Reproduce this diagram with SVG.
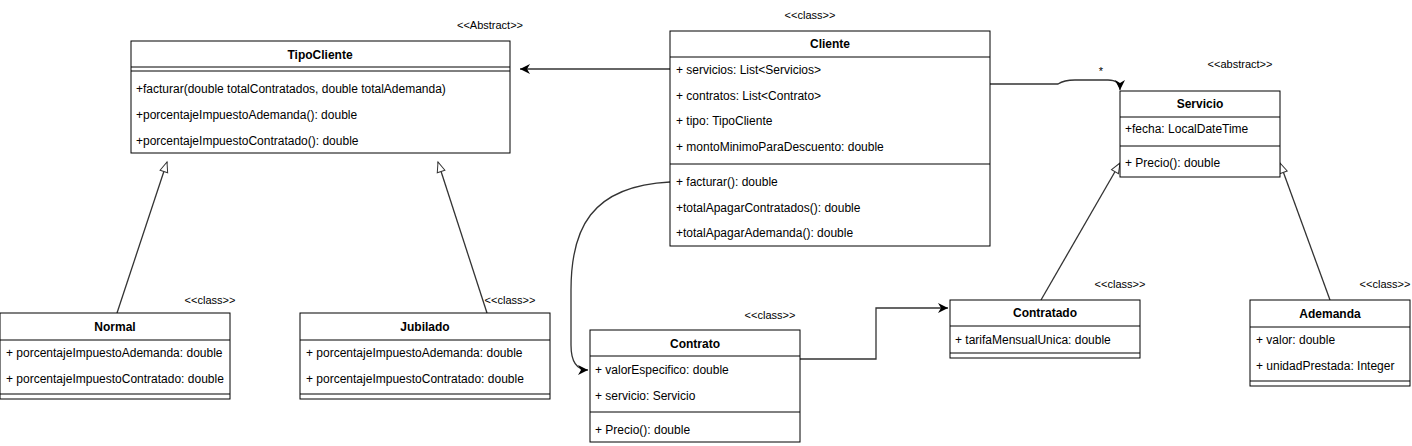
<svg xmlns="http://www.w3.org/2000/svg" width="1412" height="446" viewBox="0 0 1412 446">
<defs>
<style>
.box{fill:#fff;stroke:#000;stroke-width:1}
.sep{stroke:#000;stroke-width:1}
.t{font-family:"Liberation Sans",Arial,sans-serif;font-size:12px;fill:#000}
.title{font-family:"Liberation Sans",Arial,sans-serif;font-size:12px;font-weight:bold;fill:#000;text-anchor:middle}
.st{font-family:"Liberation Sans",Arial,sans-serif;font-size:11px;fill:#000;text-anchor:middle}
.c{fill:none;stroke:#333;stroke-width:1.3}
</style>
<marker id="fill" markerWidth="12" markerHeight="10" refX="10" refY="5" orient="auto" markerUnits="userSpaceOnUse">
<path d="M0,0 L10,5 L0,10 L3,5 Z" fill="#000"/>
</marker>
<marker id="gen" markerWidth="14" markerHeight="12" refX="11" refY="5" orient="auto" markerUnits="userSpaceOnUse">
<path d="M1,1 L11,5 L1,9 Z" fill="#fff" stroke="#333" stroke-width="1"/>
</marker>
</defs>

<g id="connectors">
<path class="c" d="M670,69 L520,69" marker-end="url(#fill)"/>
<path class="c" d="M990,84 L1058,84 Q1064,80 1075,80 L1108,80 Q1120,80 1120,90" marker-end="url(#fill)"/>
<text class="st" x="1101" y="75">*</text>
<path class="c" d="M670,182 C590,186 571,230 571,290 L571,345 C571,360 576,370 588,370" marker-end="url(#fill)"/>
<path class="c" d="M800,359 L876,359 L876,308 L948,308" marker-end="url(#fill)"/>
<path class="c" d="M117,313 L167,162" marker-end="url(#gen)"/>
<path class="c" d="M487,313 L438,162" marker-end="url(#gen)"/>
<path class="c" d="M1041,300 L1120,163" marker-end="url(#gen)"/>
<path class="c" d="M1330,300 L1280,163" marker-end="url(#gen)"/>
</g>

<g id="TipoCliente">
<text class="st" x="490" y="29">&lt;&lt;Abstract&gt;&gt;</text>
<rect class="box" x="131" y="41" width="379" height="112"/>
<line class="sep" x1="131" y1="67" x2="510" y2="67"/>
<line class="sep" x1="131" y1="71" x2="510" y2="71"/>
<text class="title" x="320" y="59">TipoCliente</text>
<text class="t" x="136" y="93">+facturar(double totalContratados, double totalAdemanda)</text>
<text class="t" x="136" y="119">+porcentajeImpuestoAdemanda(): double</text>
<text class="t" x="136" y="145">+porcentajeImpuestoContratado(): double</text>
</g>

<g id="Cliente">
<text class="st" x="810" y="19">&lt;&lt;class&gt;&gt;</text>
<rect class="box" x="670" y="31" width="320" height="215"/>
<line class="sep" x1="670" y1="57" x2="990" y2="57"/>
<line class="sep" x1="670" y1="164" x2="990" y2="164"/>
<text class="title" x="830" y="48">Cliente</text>
<text class="t" x="676" y="74">+ servicios: List&lt;Servicios&gt;</text>
<text class="t" x="676" y="100">+ contratos: List&lt;Contrato&gt;</text>
<text class="t" x="676" y="125">+ tipo: TipoCliente</text>
<text class="t" x="676" y="151">+ montoMinimoParaDescuento: double</text>
<text class="t" x="676" y="186">+ facturar(): double</text>
<text class="t" x="676" y="212">+totalApagarContratados(): double</text>
<text class="t" x="676" y="237">+totalApagarAdemanda(): double</text>
</g>

<g id="Servicio">
<text class="st" x="1240" y="68">&lt;&lt;abstract&gt;&gt;</text>
<rect class="box" x="1120" y="91" width="160" height="86"/>
<line class="sep" x1="1120" y1="117" x2="1280" y2="117"/>
<line class="sep" x1="1120" y1="146" x2="1280" y2="146"/>
<text class="title" x="1200" y="108">Servicio</text>
<text class="t" x="1125" y="133">+fecha: LocalDateTime</text>
<text class="t" x="1125" y="167">+ Precio(): double</text>
</g>

<g id="Normal">
<text class="st" x="210" y="304">&lt;&lt;class&gt;&gt;</text>
<rect class="box" x="0" y="313" width="230" height="86"/>
<line class="sep" x1="0" y1="340" x2="230" y2="340"/>
<line class="sep" x1="0" y1="394" x2="230" y2="394"/>
<text class="title" x="115" y="331">Normal</text>
<text class="t" x="6" y="357">+ porcentajeImpuestoAdemanda: double</text>
<text class="t" x="6" y="383">+ porcentajeImpuestoContratado: double</text>
</g>

<g id="Jubilado">
<text class="st" x="510" y="304">&lt;&lt;class&gt;&gt;</text>
<rect class="box" x="300" y="313" width="250" height="86"/>
<line class="sep" x1="300" y1="340" x2="550" y2="340"/>
<line class="sep" x1="300" y1="394" x2="550" y2="394"/>
<text class="title" x="425" y="331">Jubilado</text>
<text class="t" x="306" y="357">+ porcentajeImpuestoAdemanda: double</text>
<text class="t" x="306" y="383">+ porcentajeImpuestoContratado: double</text>
</g>

<g id="Contrato">
<text class="st" x="770" y="319">&lt;&lt;class&gt;&gt;</text>
<rect class="box" x="590" y="330" width="210" height="112"/>
<line class="sep" x1="590" y1="356" x2="800" y2="356"/>
<line class="sep" x1="590" y1="412" x2="800" y2="412"/>
<text class="title" x="695" y="348">Contrato</text>
<text class="t" x="595" y="374">+ valorEspecifico: double</text>
<text class="t" x="595" y="400">+ servicio: Servicio</text>
<text class="t" x="595" y="434">+ Precio(): double</text>
</g>

<g id="Contratado">
<text class="st" x="1120" y="288">&lt;&lt;class&gt;&gt;</text>
<rect class="box" x="950" y="300" width="190" height="58"/>
<line class="sep" x1="950" y1="326" x2="1140" y2="326"/>
<line class="sep" x1="950" y1="353" x2="1140" y2="353"/>
<text class="title" x="1045" y="317">Contratado</text>
<text class="t" x="955" y="344">+ tarifaMensualUnica: double</text>
</g>

<g id="Ademanda">
<text class="st" x="1385" y="288">&lt;&lt;class&gt;&gt;</text>
<rect class="box" x="1250" y="300" width="160" height="86"/>
<line class="sep" x1="1250" y1="327" x2="1410" y2="327"/>
<line class="sep" x1="1250" y1="381" x2="1410" y2="381"/>
<text class="title" x="1330" y="318">Ademanda</text>
<text class="t" x="1256" y="344">+ valor: double</text>
<text class="t" x="1256" y="370">+ unidadPrestada: Integer</text>
</g>
</svg>
